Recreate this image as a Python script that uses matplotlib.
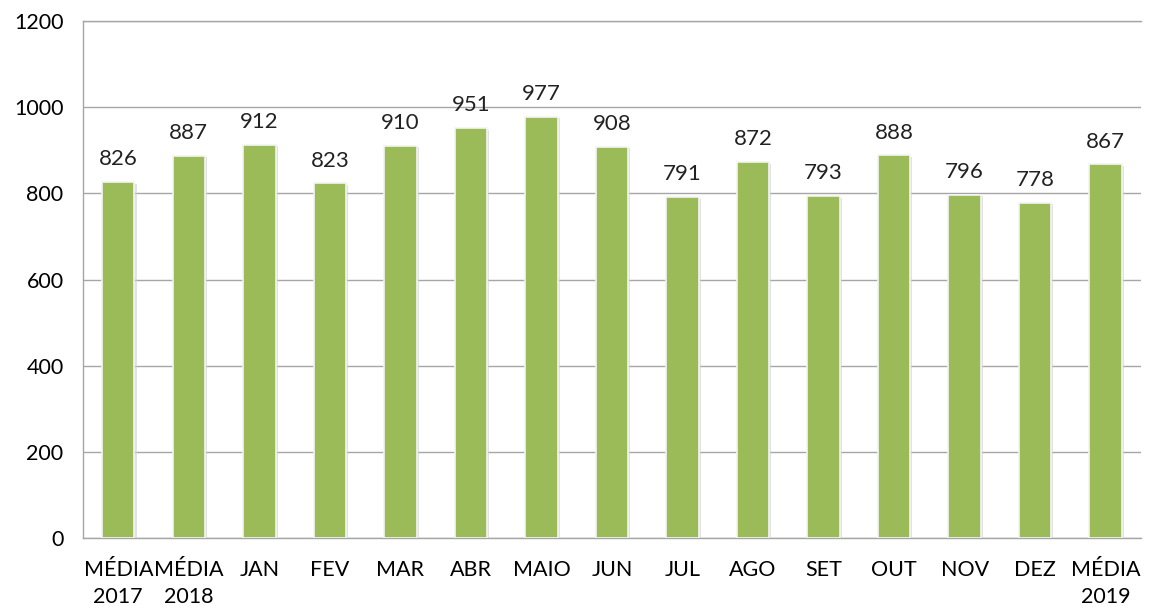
import matplotlib
matplotlib.use('Agg')
import matplotlib.pyplot as plt
import matplotlib.patheffects as pe

# dados do gráfico
categorias = ['MÉDIA\n2017', 'MÉDIA\n2018', 'JAN', 'FEV', 'MAR', 'ABR', 'MAIO', 'JUN',
              'JUL', 'AGO', 'SET', 'OUT', 'NOV', 'DEZ', 'MÉDIA\n2019']
valores = [826, 887, 912, 823, 910, 951, 977, 908, 791, 872, 793, 888, 796, 778, 867]
yticks = [0, 200, 400, 600, 800, 1000, 1200]

plt.rcParams['font.family'] = ['Lato', 'DejaVu Sans']

fig = plt.figure(figsize=(11.56, 6.06), dpi=100)
ax = fig.add_axes([0.0718, 0.1122, 0.9152, 0.8531])

x = range(len(categorias))
bars = ax.bar(x, valores, width=0.46, color='#9BBB59', zorder=3,
              edgecolor='#f4f4f4', linewidth=1.2)
for b in bars:
    b.set_path_effects([pe.SimplePatchShadow(offset=(1.5, -1), shadow_rgbFace='#d0d0d0', alpha=0.6),
                        pe.Normal()])

for i, v in enumerate(valores):
    ax.text(i, v + 30, str(v), ha='center', va='bottom', fontsize=16, color='#222222')

ax.set_xlim(-0.5, len(categorias) - 0.5)
ax.set_ylim(0, 1200)
ax.set_yticks(yticks)
ax.set_xticks(list(x))
ax.set_xticklabels(categorias, fontsize=15.5, linespacing=1.45)
ax.tick_params(axis='y', labelsize=15.5, length=0, pad=14)
ax.tick_params(axis='x', length=0, pad=16)

ax.yaxis.grid(True, color='#a6a6a6', linewidth=1, zorder=0)
ax.set_axisbelow(True)
for s in ['right']:
    ax.spines[s].set_visible(False)
for s in ['left', 'bottom', 'top']:
    ax.spines[s].set_color('#a6a6a6')
    ax.spines[s].set_linewidth(1)

fig.savefig('out.png', dpi=100)
